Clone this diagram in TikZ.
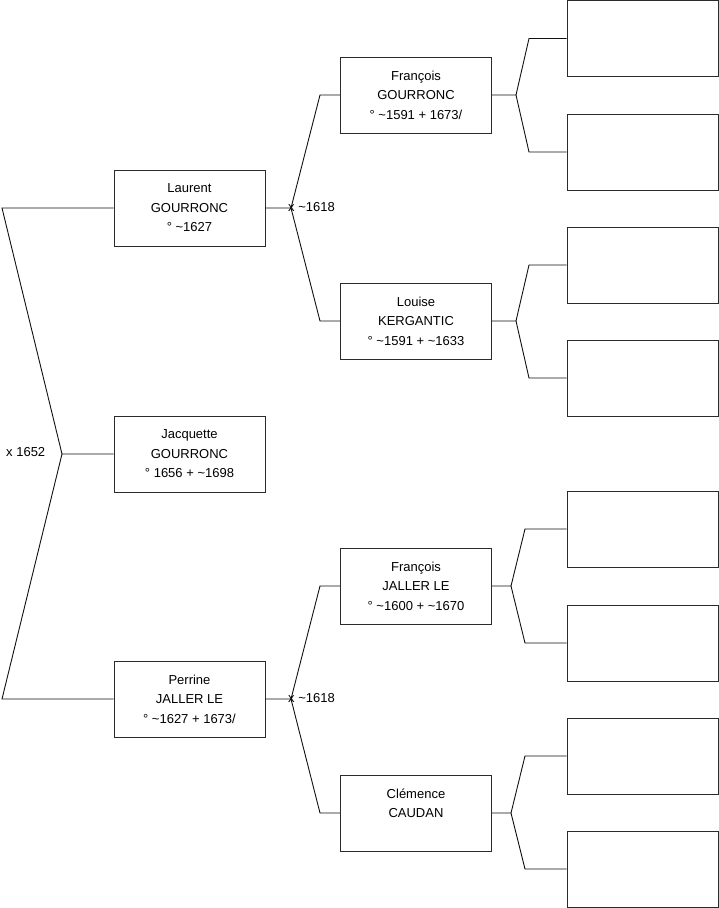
\documentclass[tikz,border=0pt]{standalone}
\usepackage{fontspec}
\setmainfont{Liberation Sans}
\definecolor{boxline}{HTML}{2B2B2B}
\definecolor{linkline}{HTML}{111111}
\newcommand{\circa}{\textasciitilde}
\begin{document}
\begin{tikzpicture}[
    x=1pt, y=-1pt,
    person/.style={draw=boxline, line width=0.9pt, minimum width=151pt, minimum height=76pt, inner sep=0pt, align=center, font=\fontsize{13}{19.5}\selectfont},
    link/.style={draw=linkline, line width=0.9pt},
    lbl/.style={anchor=west, inner sep=0pt, font=\fontsize{13}{16}\selectfont},
  ]
  \useasboundingbox (0,0) rectangle (719,908);
  \node[person] (laur) at (189.5,208) {Laurent\\GOURRONC\\° \circa1627};
  \node[person] (jacq) at (189.5,454) {Jacquette\\GOURRONC\\° 1656 + \circa1698};
  \node[person] (perr) at (189.5,699) {Perrine\\JALLER LE\\° \circa1627 + 1673/};
  \node[person] (fgou) at (416,95)  {François\\GOURRONC\\° \circa1591 + 1673/};
  \node[person] (lker) at (416,321) {Louise\\KERGANTIC\\° \circa1591 + \circa1633};
  \node[person] (fjal) at (416,586) {François\\JALLER LE\\° \circa1600 + \circa1670};
  \node[person] (ccau) at (416,813) {Clémence\\CAUDAN\\\mbox{}};
  \node[person] (fgouf) at (642.5,38.5) {};
  \node[person] (fgoum) at (642.5,152)  {};
  \node[person] (lkerf) at (642.5,265)  {};
  \node[person] (lkerm) at (642.5,378)  {};
  \node[person] (fjalf) at (642.5,529)  {};
  \node[person] (fjalm) at (642.5,643)  {};
  \node[person] (ccauf) at (642.5,756)  {};
  \node[person] (ccaum) at (642.5,869)  {};
  \coordinate (mjacq)  at (62,454);
  \coordinate (mjacqa) at (2,208);
  \coordinate (mjacqb) at (2,699);
  \coordinate (mlaur)  at (291,208);
  \coordinate (mlaura) at (320,95);
  \coordinate (mlaurb) at (320,321);
  \coordinate (mperr)  at (291,699);
  \coordinate (mperra) at (320,586);
  \coordinate (mperrb) at (320,813);
  \coordinate (mfgou)  at (516,95);
  \coordinate (mfgoua) at (529,38.5);
  \coordinate (mfgoub) at (529,152);
  \coordinate (mlker)  at (516,321);
  \coordinate (mlkera) at (529,265);
  \coordinate (mlkerb) at (529,378);
  \coordinate (mfjal)  at (511,586);
  \coordinate (mfjala) at (525,529);
  \coordinate (mfjalb) at (525,643);
  \coordinate (mccau)  at (511,813);
  \coordinate (mccaua) at (525,756);
  \coordinate (mccaub) at (525,869);
  \draw[link] (jacq.west) -- (mjacq) -- (mjacqa) -- (laur.west);
  \draw[link] (mjacq) -- (mjacqb) -- (perr.west);
  \draw[link] (laur.east) -- (mlaur) -- (mlaura) -- (fgou.west);
  \draw[link] (mlaur) -- (mlaurb) -- (lker.west);
  \draw[link] (perr.east) -- (mperr) -- (mperra) -- (fjal.west);
  \draw[link] (mperr) -- (mperrb) -- (ccau.west);
  \draw[link] (fgou.east) -- (mfgou) -- (mfgoua) -- (fgouf.west);
  \draw[link] (mfgou) -- (mfgoub) -- (fgoum.west);
  \draw[link] (lker.east) -- (mlker) -- (mlkera) -- (lkerf.west);
  \draw[link] (mlker) -- (mlkerb) -- (lkerm.west);
  \draw[link] (fjal.east) -- (mfjal) -- (mfjala) -- (fjalf.west);
  \draw[link] (mfjal) -- (mfjalb) -- (fjalm.west);
  \draw[link] (ccau.east) -- (mccau) -- (mccaua) -- (ccauf.west);
  \draw[link] (mccau) -- (mccaub) -- (ccaum.west);
  \node[lbl] (ljacq) at (6,452)   {x 1652};
  \node[lbl] (llaur) at (288,207) {x \circa1618};
  \node[lbl] (lperr) at (288,698) {x \circa1618};
\end{tikzpicture}
\end{document}
